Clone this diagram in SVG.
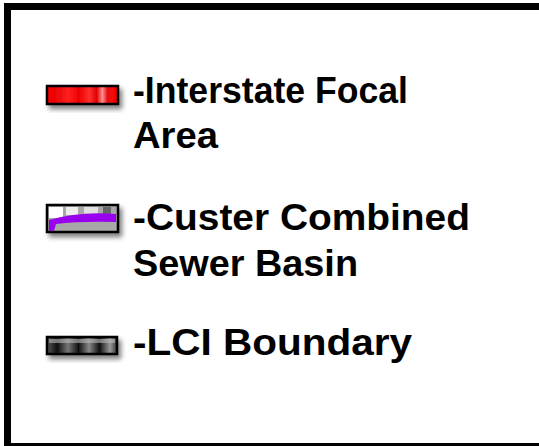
<svg xmlns="http://www.w3.org/2000/svg" width="539" height="446" viewBox="0 0 539 446">
<style>
.t{font-family:"Liberation Sans",Arial,sans-serif;font-weight:bold;font-size:37px;fill:#000}
.ib{stroke:#000;stroke-width:2.5}
</style>
<defs>
<filter id="sh" x="-20%" y="-30%" width="150%" height="180%">
<feGaussianBlur in="SourceAlpha" stdDeviation="2.5"/>
<feOffset dx="3" dy="4" result="b"/>
<feComponentTransfer><feFuncA type="linear" slope="0.5"/></feComponentTransfer>
<feMerge><feMergeNode/><feMergeNode in="SourceGraphic"/></feMerge>
</filter>
<linearGradient id="red" x1="0" x2="1" y1="0" y2="0">
<stop offset="0" stop-color="#f00"/>
<stop offset="0.15" stop-color="#e80808"/>
<stop offset="0.3" stop-color="#ff2020"/>
<stop offset="0.45" stop-color="#e00"/>
<stop offset="0.6" stop-color="#ff3030"/>
<stop offset="0.7" stop-color="#d00"/>
<stop offset="0.78" stop-color="#ff9090"/>
<stop offset="0.85" stop-color="#e81010"/>
<stop offset="1" stop-color="#f00"/>
</linearGradient>
<linearGradient id="gry" x1="0" x2="1" y1="0" y2="0">
<stop offset="0" stop-color="#555"/>
<stop offset="0.15" stop-color="#111"/>
<stop offset="0.3" stop-color="#777"/>
<stop offset="0.45" stop-color="#111"/>
<stop offset="0.6" stop-color="#888"/>
<stop offset="0.75" stop-color="#111"/>
<stop offset="0.9" stop-color="#999"/>
<stop offset="1" stop-color="#333"/>
</linearGradient>
</defs>
<rect x="7.5" y="6.5" width="540" height="440" fill="#fff" stroke="#000" stroke-width="7"/>
<g id="legend-interstate">
<g filter="url(#sh)">
<rect class="ib" x="47" y="86" width="71" height="18" fill="url(#red)"/>
</g>
<text class="t" x="133" y="103" textLength="275" lengthAdjust="spacingAndGlyphs">-Interstate Focal</text>
<text class="t" x="133" y="148" textLength="85" lengthAdjust="spacingAndGlyphs">Area</text>
</g>
<g id="legend-custer">
<g filter="url(#sh)">
<rect class="ib" x="47" y="205" width="71" height="27" fill="#a8a8a8"/>
<rect x="49" y="207" width="14" height="11" fill="#fff"/>
<rect x="66" y="207" width="12" height="8" fill="#eee"/>
<rect x="84" y="207" width="14" height="9" fill="#e0e0e0"/>
<rect x="103" y="207" width="8" height="9" fill="#666"/>
<path d="M49 231 L49 220 Q80 211 116 214 L116 222 Q80 221 56 224 L54 231 Z" fill="#9900ee"/>
</g>
<text class="t" x="133" y="230" textLength="337" lengthAdjust="spacingAndGlyphs">-Custer Combined</text>
<text class="t" x="133" y="276" textLength="225" lengthAdjust="spacingAndGlyphs">Sewer Basin</text>
</g>
<g id="legend-lci">
<g filter="url(#sh)">
<rect class="ib" x="47" y="337" width="70" height="17" fill="url(#gry)"/>
<rect x="49" y="339" width="66" height="4" fill="#bbb" opacity="0.6"/>
</g>
<text class="t" x="133" y="355" textLength="279" lengthAdjust="spacingAndGlyphs">-LCI Boundary</text>
</g>
</svg>
